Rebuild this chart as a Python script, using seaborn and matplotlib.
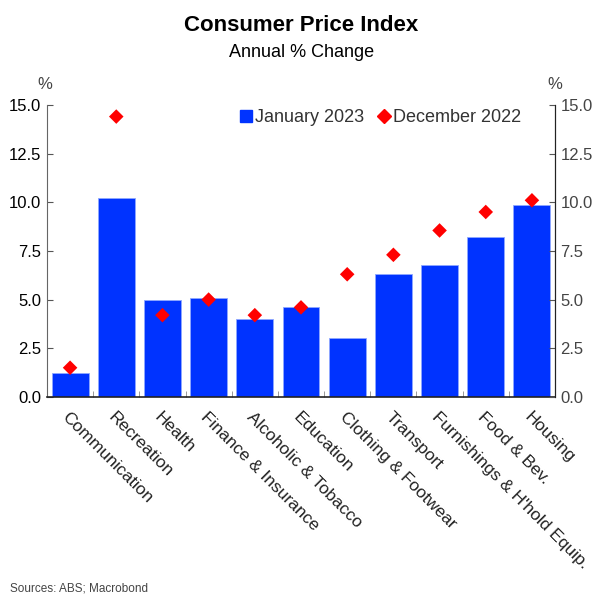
import numpy as np
import pandas as pd
import seaborn as sns
import matplotlib.pyplot as plt
from matplotlib.lines import Line2D

categories = ['Communication', 'Recreation', 'Health', 'Finance & Insurance',
              'Alcoholic & Tobacco', 'Education', 'Clothing & Footwear',
              'Transport', "Furnishings & H'hold Equip.", 'Food & Bev.', 'Housing']
jan_2023 = [1.25, 10.2, 5.0, 5.1, 4.0, 4.6, 3.05, 6.3, 6.8, 8.2, 9.85]
dec_2022 = [1.5, 14.4, 4.2, 5.0, 4.2, 4.6, 6.3, 7.3, 8.55, 9.5, 10.1]

sns.set_style('white')
plt.rcParams['font.family'] = ['Liberation Sans', 'DejaVu Sans']
plt.rcParams['text.color'] = 'black'

df = pd.DataFrame({'category': categories, 'jan': jan_2023, 'dec': dec_2022})

fig = plt.figure(figsize=(5.97, 5.96), dpi=100)
ax = fig.add_axes([0.0787, 0.334, 0.851, 0.49])

bar_blue = '#0033ff'
sns.barplot(data=df, x='category', y='jan', color=bar_blue, saturation=1,
            width=0.8, edgecolor='#8fa8ff', linewidth=0.6, ax=ax)
sns.scatterplot(data=df, x='category', y='dec', marker='D', color='#ff0000',
                s=55, edgecolor='none', ax=ax, zorder=5)

ax.set_xlim(-0.5, len(categories) - 0.5)
ax.set_ylim(0, 15)
ticks = np.arange(0, 15.01, 2.5)
ax.set_yticks(ticks)
ax.set_yticklabels([f'{v:.1f}' for v in ticks], fontsize=12, color='black')
ax.set_xlabel('')
ax.set_ylabel('')

# category boundaries as ticks, labels at centres
ax.set_xticks(np.arange(len(categories)))
ax.set_xticklabels(categories, rotation=-45, ha='left', rotation_mode='anchor',
                   fontsize=12.5, color='#222222')
ax.set_xticks(np.arange(len(categories) - 1) + 0.5, minor=True)
ax.tick_params(axis='x', which='major', length=0, pad=9)
ax.tick_params(axis='x', which='minor', direction='in', length=4, color='#888888', bottom=True)
ax.tick_params(axis='y', direction='in', length=4, color='#555555', left=True, pad=4)

ax.spines['top'].set_visible(False)
ax.spines['left'].set_color('#666666')
ax.spines['bottom'].set_color('#222222')
ax.spines['bottom'].set_linewidth(1.2)
ax.spines['right'].set_color('#222222')

ax2 = ax.twinx()
ax2.set_ylim(0, 15)
ax2.set_yticks(ticks)
ax2.set_yticklabels([f'{v:.1f}' for v in ticks], fontsize=12, color='#444444')
ax2.tick_params(axis='y', direction='in', length=4, color='#555555', right=True, pad=4)
for side in ['top', 'left', 'bottom']:
    ax2.spines[side].set_visible(False)
ax2.spines['right'].set_color('#222222')

ax.text(-0.005, 1.045, '%', transform=ax.transAxes, ha='center', va='bottom', fontsize=12, color='#444444')
ax.text(1.0, 1.045, '%', transform=ax.transAxes, ha='center', va='bottom', fontsize=12, color='#444444')

handles = [Line2D([], [], marker='s', color=bar_blue, linestyle='none', markersize=8),
           Line2D([], [], marker='D', color='#ff0000', linestyle='none', markersize=7)]
leg = ax.legend(handles, ['January 2023', 'December 2022'], loc='upper right',
                ncol=2, frameon=False, fontsize=13, handletextpad=0.0,
                columnspacing=0.6, bbox_to_anchor=(0.965, 1.04), handlelength=1.0)
for t in leg.get_texts():
    t.set_color('#333333')

fig.text(0.505, 0.957, 'Consumer Price Index', ha='center', va='center',
         fontsize=16, fontweight='bold')
fig.text(0.505, 0.912, 'Annual % Change', ha='center', va='center', fontsize=13)
fig.text(0.017, 0.002, 'Sources: ABS; Macrobond', ha='left', va='bottom',
         fontsize=8.5, color='#444444')

plt.savefig('out.png', dpi=100)
